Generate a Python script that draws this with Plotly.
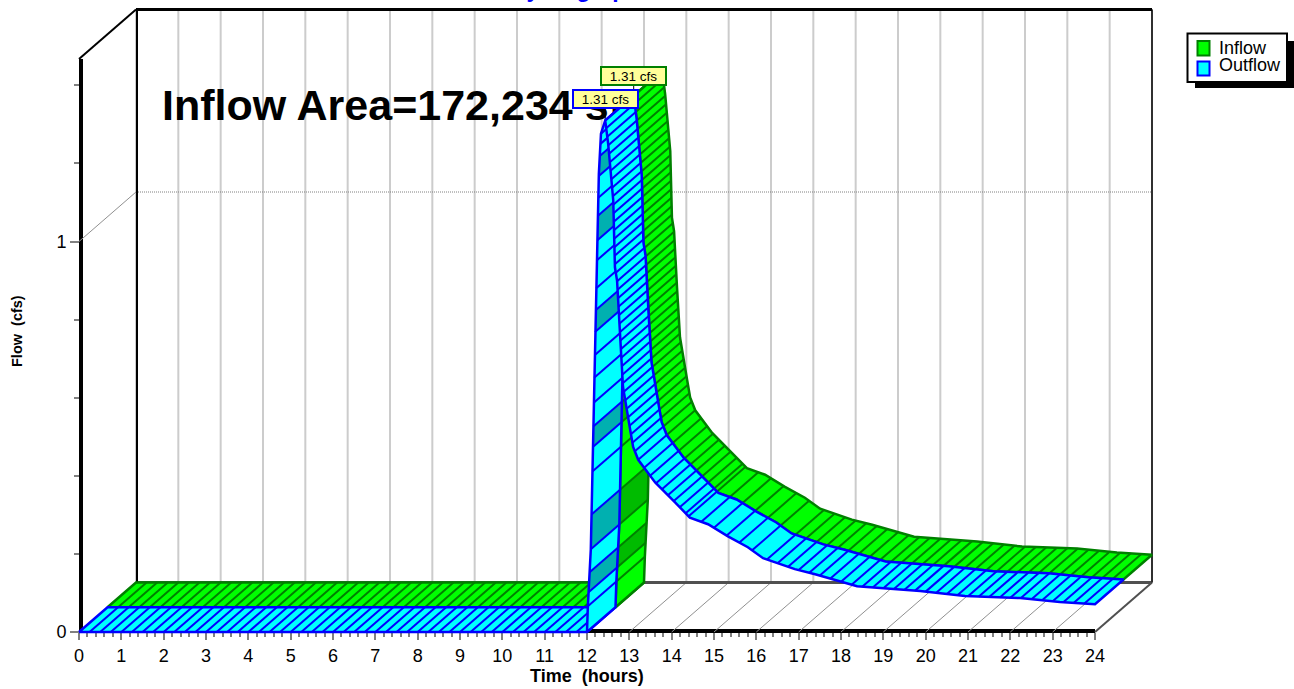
import numpy as np
import plotly.graph_objects as go

# ---------- values ----------
time_h = [0, 12.00, 12.02, 12.09, 12.14, 12.19, 12.23, 12.24, 12.28, 12.33, 12.43,
          12.50, 12.62, 12.66, 12.71, 12.78, 12.85, 13.02, 13.09, 13.21, 13.61, 14.08,
          14.43, 14.86, 15.33, 15.80, 16.16, 16.91, 17.39, 18.38, 19.87, 20.93, 21.59,
          22.23, 23.17, 24.00]
inflow_cfs = [0, 0, 0.066, 0.212, 0.480, 0.773, 0.926, 0.977, 1.173, 1.276, 1.31,
              1.25, 1.105, 0.934, 0.90, 0.755, 0.628, 0.518, 0.474, 0.441, 0.383, 0.332,
              0.293, 0.276, 0.245, 0.217, 0.189, 0.161, 0.148, 0.117, 0.105, 0.092, 0.089,
              0.087, 0.077, 0.071]
outflow_cfs = [0, 0, 0.066, 0.212, 0.480, 0.773, 0.926, 0.977, 1.173, 1.276, 1.31,
               1.25, 1.105, 0.934, 0.90, 0.755, 0.628, 0.518, 0.474, 0.441, 0.383, 0.332,
               0.293, 0.276, 0.245, 0.217, 0.189, 0.161, 0.148, 0.117, 0.105, 0.092, 0.089,
               0.087, 0.077, 0.071]
series_names = ["Inflow", "Outflow"]
peak_labels = ["1.31 cfs", "1.31 cfs"]
area_note = "Inflow Area=172,234 sf"
chart_title = "Hydrograph"
x_title = "Time\u00a0\u00a0(hours)"
y_title = "Flow\u00a0\u00a0(cfs)"
hour_ticks = list(range(25))
flow_ticks = [0, 1]
flow_minor = [0.2, 0.4, 0.6, 0.8, 1.2, 1.4]
# flow levels of the hatch strokes and the darker cells on the rising limb
rise_hatch = [0.066, 0.102, 0.153, 0.212, 0.301, 0.411, 0.474, 0.526, 0.587, 0.651, 0.709,
              0.768, 0.824, 0.880, 0.952, 1.003, 1.066, 1.112, 1.168, 1.219, 1.25, 1.276]
rise_dark = [(0.153, 0.102), (0.301, 0.212), (0.526, 0.474), (0.824, 0.768), (1.066, 1.003), (1.219, 1.168)]

# ---------- page geometry (pixels) ----------
W, H = 1294, 689
PL, PR, PT, PB = 60, 1160, 4, 645       # data plot rectangle
X0, X24, Y0, Y1, YTOP = 79, 1095, 632, 241.5, 59
PXH = (X24 - X0) / 24
PXC = Y0 - Y1
DEPTH_PX, DEPTH_PY = 57, 49.5
DX, DY = DEPTH_PX / PXH, DEPTH_PY / PXC
FRONT_TOP = (Y0 - YTOP) / PXC
HOUR_MAX = 24


def fx(px):
    return (px - PL) / (PR - PL)


def fy(py):
    return (PB - py) / (PB - PT)


def pr(t, y, d):
    return np.asarray(t, float) + d * DX, np.asarray(y, float) + d * DY


def ribbon(t, y, d0, d1):
    ax, ay = pr(t, y, d0)
    bx, by = pr(t, y, d1)
    return list(ax) + list(bx[::-1]) + [ax[0]], list(ay) + list(by[::-1]) + [ay[0]]


def strokes(t, y, d0, d1):
    xs, ys = [], []
    ax, ay = pr(t, y, d0)
    bx, by = pr(t, y, d1)
    for i in range(len(ax)):
        xs += [ax[i], bx[i], None]
        ys += [ay[i], by[i], None]
    return xs, ys


def line(fig, x, y, color, width, dash=None):
    fig.add_trace(go.Scatter(x=x, y=y, mode="lines", xaxis="x2", yaxis="y2", showlegend=False,
                             hoverinfo="skip", line=dict(color=color, width=width, dash=dash)))


def patch(fig, x, y, color, name=None):
    fig.add_trace(go.Scatter(x=x, y=y, mode="lines", fill="toself", fillcolor=color, line=dict(width=0), name=name,
                             xaxis="x2", yaxis="y2", showlegend=False, hoverinfo="skip"))


fig = go.Figure()

# back wall and floor
GRID = "#999999"
for h in hour_ticks:
    x, y = pr([h, h], [0, FRONT_TOP], 1)
    line(fig, list(x), list(y), GRID, 2, "1px,1px")
x, y = pr([0, HOUR_MAX], [1, 1], 1)
line(fig, list(x), list(y), "#808080", 1, "1px,1px")
for h in hour_ticks:
    line(fig, [h, h + DX], [0, DY], "#909090", 1)
line(fig, [0, DX], [1, 1 + DY], "#909090", 1)
line(fig, [DX, HOUR_MAX + DX], [DY, DY], "#505050", 3)
line(fig, [HOUR_MAX, HOUR_MAX + DX], [0, DY], "#505050", 2)
line(fig, [HOUR_MAX + DX, HOUR_MAX + DX], [DY, FRONT_TOP + DY], "#303030", 2)
line(fig, [DX + 1 / PXH, DX + 1 / PXH], [DY, FRONT_TOP + DY], "#000000", 2)
line(fig, [0, DX], [FRONT_TOP, FRONT_TOP + DY], "#000000", 2)
line(fig, [DX, HOUR_MAX + DX], [FRONT_TOP + DY, FRONT_TOP + DY], "#000000", 3)

# note behind the series
fig.add_trace(go.Scatter(x=[(162 - X0) / PXH], y=[(Y0 - 109) / PXC], mode="text", text=["<b>" + area_note + "</b>"],
                         textposition="middle right", xaxis="x2", yaxis="y2", showlegend=False, hoverinfo="skip",
                         textfont=dict(family="Liberation Sans", size=43, color="black")))

t_arr = np.array(time_h)
styles = [
    dict(vals=np.array(inflow_cfs), d=(0.5, 1.0), name=series_names[0], fill="#00ff00", edge="#008000", dark="#00bb00", hatch=2),
    dict(vals=np.array(outflow_cfs), d=(0.0, 0.5), name=series_names[1], fill="#00ffff", edge="#0000ff", dark="#00b0b0", hatch=2),
]
for s in styles:
    v = s["vals"]
    d0, d1 = s["d"]
    pk = int(np.argmax(v))
    # stub from peak to its label
    px_, py_ = pr([t_arr[pk]], [v[pk]], d0)
    line(fig, [px_[0], px_[0]], [py_[0], py_[0] + 20 / PXC], "#000000", 1)
    # flat part
    x, y = ribbon(t_arr[:2], v[:2], d0, d1)
    patch(fig, x, y, s["fill"], s["name"])
    flat_t = np.arange(0.25, 12, 0.25)
    line(fig, *strokes(flat_t, np.zeros_like(flat_t), d0, d1), s["edge"], s["hatch"])
    line(fig, x, y, s["edge"], 2.5)
    # rising part
    t_r, v_r = t_arr[1:pk + 1], v[1:pk + 1]
    x, y = ribbon(t_r, v_r, d0, d1)
    patch(fig, x, y, s["fill"], s["name"])
    cx, cy = [], []
    for a, b in rise_dark:
        ts = np.interp([a, b], v_r, t_r)
        qx, qy = ribbon(ts, [a, b], d0, d1)
        cx += qx + [None]
        cy += qy + [None]
    patch(fig, cx, cy, s["dark"])
    rt = np.interp(rise_hatch, v_r, t_r)
    line(fig, *strokes(rt, rise_hatch, d0, d1), s["edge"], s["hatch"])
    line(fig, x, y, s["edge"], 2.5)
    # falling part
    t_f, v_f = t_arr[pk:], v[pk:]
    x, y = ribbon(t_f, v_f, d0, d1)
    patch(fig, x, y, s["fill"], s["name"])
    steep = np.arange(v[pk] - 0.02, 0.44, -8.5 / PXC)
    ts = np.interp(steep, v_f[::-1], t_f[::-1])
    line(fig, *strokes(ts, steep, d0, d1), s["edge"], s["hatch"])
    gentle = np.concatenate([np.arange(13.35, 14.4, 0.14), np.arange(14.4, 16.1, 0.3), np.arange(16.25, 24, 0.25)])
    line(fig, *strokes(gentle, np.interp(gentle, t_f, v_f), d0, d1), s["edge"], s["hatch"])
    line(fig, x, y, s["edge"], 2.5)

annotations = []
# peak labels
for s, lab, cy_ in zip(styles, peak_labels, [20, 21]):
    v = s["vals"]
    pk = int(np.argmax(v))
    ax_, ay_ = pr([t_arr[pk]], [v[pk]], s["d"][0])
    annotations.append(dict(x=float(ax_[0]), y=float(ay_[0]), xref="x2", yref="y2", text=lab, showarrow=False,
                            yshift=cy_, xanchor="center", yanchor="middle", width=63, height=16, borderwidth=2, borderpad=0,
                            bgcolor="#ffff99", bordercolor=s["edge"], align="center",
                            font=dict(family="Liberation Sans", size=13.5, color="black")))

# title (cut by the top of the page, as in the reference)
annotations.append(dict(x=fx(575), y=fy(4), xref="paper", yref="paper", text="<b>" + chart_title + "</b>", showarrow=False,
                        xanchor="center", yanchor="bottom", font=dict(family="Liberation Sans", size=23, color="#0000ff")))
# y title
annotations.append(dict(x=fx(17), y=fy(331), xref="paper", yref="paper", text="<b>" + y_title + "</b>", showarrow=False,
                        textangle=-90, xanchor="center", yanchor="middle",
                        font=dict(family="Liberation Sans", size=14.5, color="black")))
# x title
annotations.append(dict(x=fx(587), y=fy(676), xref="paper", yref="paper", text="<b>" + x_title + "</b>", showarrow=False,
                        xanchor="center", yanchor="middle", font=dict(family="Liberation Sans", size=18, color="black")))

# legend box
shapes = [
    dict(type="rect", xref="paper", yref="paper", x0=fx(1195), x1=fx(1294), y0=fy(88), y1=fy(41), fillcolor="black", line=dict(width=0)),
    dict(type="rect", xref="paper", yref="paper", x0=fx(1187.5), x1=fx(1287), y0=fy(82), y1=fy(33.5), fillcolor="white", line=dict(color="black", width=2)),
    dict(type="rect", xref="paper", yref="paper", x0=fx(1197.5), x1=fx(1209.5), y0=fy(55.5), y1=fy(41), fillcolor=styles[0]["fill"], line=dict(color=styles[0]["edge"], width=2)),
    dict(type="rect", xref="paper", yref="paper", x0=fx(1197.5), x1=fx(1209.5), y0=fy(75.5), y1=fy(61.5), fillcolor=styles[1]["fill"], line=dict(color=styles[1]["edge"], width=2)),
]
for name, py in zip(series_names, [48, 65]):
    annotations.append(dict(x=fx(1216.5), y=fy(py), xref="paper", yref="paper", text=name, showarrow=False, xanchor="left",
                            yanchor="middle", font=dict(family="Liberation Sans", size=18, color="black")))

fig.update_layout(
    width=W, height=H, autosize=False, showlegend=False,
    margin=dict(l=PL, r=W - PR, t=PT, b=H - PB, pad=0),
    paper_bgcolor="white", plot_bgcolor="rgba(0,0,0,0)",
    font=dict(family="Liberation Sans", size=16, color="black"),
    annotations=annotations, shapes=shapes,
    # frame axes, with the front-plane scale
    xaxis=dict(domain=[fx(X0), fx(X24)], range=[0, 24], anchor="free", position=fy(Y0 - 1), tickvals=hour_ticks,
               ticks="outside", ticklen=7, tickwidth=2, tickcolor="#808080", showgrid=False, zeroline=False,
               showline=True, linecolor="black", linewidth=4,
               minor=dict(tickvals=[i / 5 for i in range(121) if i % 5], ticks="outside", ticklen=4, tickwidth=2, tickcolor="#808080", showgrid=False),
               tickfont=dict(size=18)),
    yaxis=dict(domain=[fy(Y0), fy(YTOP)], range=[0, FRONT_TOP], anchor="free", position=fx(X0 + 2), tickvals=flow_ticks,
               ticks="outside", ticklen=9, tickwidth=2, tickcolor="#808080", showgrid=False, zeroline=False,
               showline=True, linecolor="black", linewidth=4,
               minor=dict(tickvals=flow_minor, ticks="outside", ticklen=5, tickwidth=2, tickcolor="#808080", showgrid=False),
               tickfont=dict(size=18)),
    # data axes, hidden, same scale, slightly wider so outlines are not cut
    xaxis2=dict(domain=[0, 1], range=[(PL - X0) / PXH, (PR - X0) / PXH], anchor="y2", visible=False),
    yaxis2=dict(domain=[0, 1], range=[(Y0 - PB) / PXC, (Y0 - PT) / PXC], anchor="x2", visible=False),
)
# an empty trace keeps the frame axes alive under the data axes
fig.add_trace(go.Scatter(x=[None], y=[None], xaxis="x", yaxis="y", showlegend=False, hoverinfo="skip"))

fig.write_html("out.html", config=dict(displayModeBar=False),
               post_script="document.body.style.margin='0';document.body.style.overflow='hidden';")
